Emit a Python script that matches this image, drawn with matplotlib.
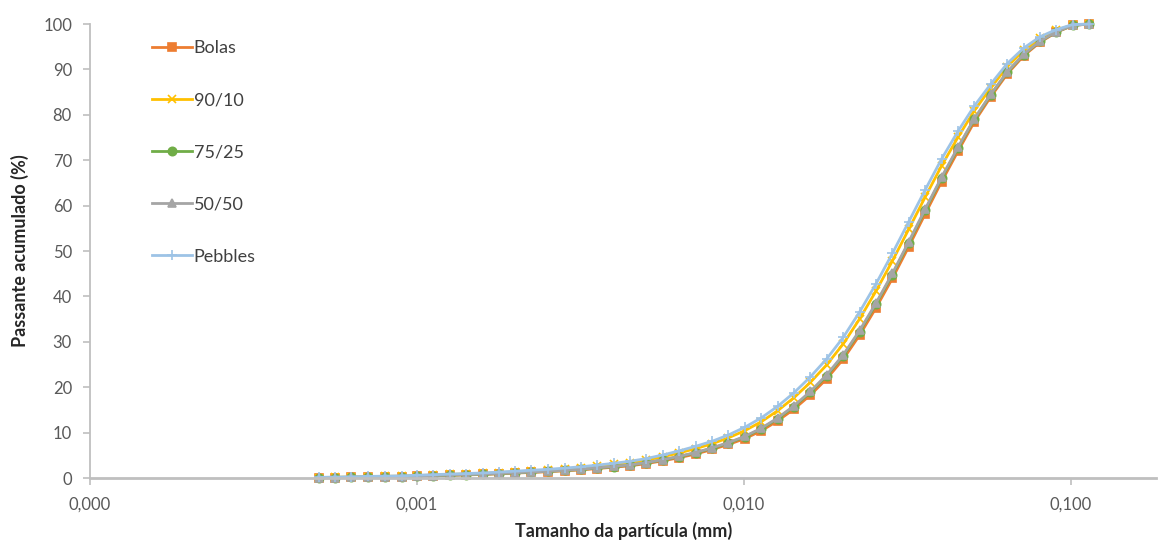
import matplotlib.pyplot as plt
from matplotlib.ticker import FixedLocator, FuncFormatter, NullLocator

# particle sizes (mm)
tamanho = [0.0005, 0.00056, 0.00063, 0.00071, 0.0008, 0.0009, 0.001, 0.00112,
           0.00126, 0.00141, 0.00159, 0.00178, 0.002, 0.00224, 0.00252, 0.00283,
           0.00317, 0.00356, 0.004, 0.00449, 0.00504, 0.00566, 0.00635, 0.00713,
           0.008, 0.00898, 0.01008, 0.01131, 0.0127, 0.01425, 0.016, 0.01796,
           0.02016, 0.02263, 0.0254, 0.02851, 0.032, 0.03592, 0.04032, 0.04525,
           0.0508, 0.05702, 0.064, 0.07184, 0.08063, 0.0905, 0.1016, 0.11404]

bolas = [0.05, 0.10, 0.15, 0.20, 0.25, 0.30, 0.40, 0.50, 0.60, 0.70, 0.80, 0.95,
         1.10, 1.25, 1.40, 1.60, 1.80, 2.10, 2.40, 2.70, 3.20, 3.80, 4.50, 5.30,
         6.30, 7.40, 8.70, 10.40, 12.60, 15.20, 18.30, 21.90, 26.20, 31.50, 37.50, 44.00,
         51.00, 58.20, 65.30, 72.00, 78.50, 84.00, 89.00, 93.00, 96.00, 98.20, 99.70, 100]
m90_10 = [0.12, 0.18, 0.25, 0.31, 0.38, 0.44, 0.55, 0.67, 0.80, 0.91, 1.02, 1.21,
          1.39, 1.58, 1.76, 2.02, 2.28, 2.63, 3.00, 3.40, 3.97, 4.71, 5.55, 6.49,
          7.56, 8.87, 10.45, 12.40, 14.84, 17.72, 21.10, 24.98, 29.56, 35.07, 41.21, 47.85,
          54.85, 61.91, 68.80, 75.08, 80.95, 85.96, 90.61, 94.19, 96.84, 98.62, 99.84, 100]
m75_25 = [0.06, 0.12, 0.17, 0.22, 0.28, 0.33, 0.43, 0.54, 0.64, 0.75, 0.85, 1.00,
          1.16, 1.32, 1.48, 1.69, 1.90, 2.21, 2.53, 2.85, 3.37, 4.00, 4.73, 5.56,
          6.57, 7.72, 9.08, 10.83, 13.08, 15.74, 18.90, 22.56, 26.92, 32.27, 38.30, 44.83,
          51.83, 59.00, 66.05, 72.66, 79.03, 84.42, 89.35, 93.26, 96.18, 98.29, 99.73, 100]
m50_50 = [0.07, 0.12, 0.18, 0.23, 0.29, 0.34, 0.44, 0.55, 0.66, 0.76, 0.86, 1.02,
          1.18, 1.34, 1.50, 1.72, 1.94, 2.25, 2.57, 2.90, 3.42, 4.06, 4.80, 5.64,
          6.66, 7.82, 9.20, 10.97, 13.24, 15.92, 19.10, 22.78, 27.16, 32.52, 38.56, 45.10,
          52.10, 59.26, 66.30, 72.88, 79.20, 84.56, 89.46, 93.34, 96.24, 98.32, 99.74, 100]
pebbles = [0.15, 0.22, 0.29, 0.36, 0.43, 0.50, 0.62, 0.75, 0.88, 1.00, 1.12, 1.32,
           1.52, 1.72, 1.92, 2.20, 2.48, 2.85, 3.25, 3.70, 4.30, 5.10, 6.00, 7.00,
           8.10, 9.50, 11.20, 13.25, 15.80, 18.80, 22.30, 26.30, 31.00, 36.60, 42.80, 49.50,
           56.50, 63.50, 70.30, 76.40, 82.00, 86.80, 91.30, 94.70, 97.20, 98.80, 99.90, 100]

series = [
    ('Bolas', bolas, '#ED7D31', 's', 6),
    ('90/10', m90_10, '#FFC000', 'x', 6),
    ('75/25', m75_25, '#70AD47', 'o', 6),
    ('50/50', m50_50, '#A5A5A5', '^', 6),
    ('Pebbles', pebbles, '#9DC3E6', '+', 7),
]

plt.rcParams['font.family'] = ['Lato', 'DejaVu Sans']

fig = plt.figure(figsize=(11.59, 5.47), dpi=100)
ax = fig.add_axes([0.0777, 0.126, 0.92, 0.830])

for name, vals, color, mk, ms in series:
    ax.plot(tamanho, vals, color=color, lw=2, marker=mk, markersize=ms,
            markeredgewidth=1.2, label=name, clip_on=False)

ax.set_xscale('log')
ax.set_xlim(0.0001, 0.183)
ax.set_ylim(0, 100)
ax.xaxis.set_major_locator(FixedLocator([0.0001, 0.001, 0.01, 0.1]))
ax.xaxis.set_minor_locator(NullLocator())
ax.xaxis.set_major_formatter(FuncFormatter(lambda v, p: f'{v:.3f}'.replace('.', ',')))
ax.set_yticks(range(0, 101, 10))

for s in ['top', 'right']:
    ax.spines[s].set_visible(False)
for s in ['left', 'bottom']:
    ax.spines[s].set_color('#BFBFBF')
    ax.spines[s].set_linewidth(1.3)
ax.spines['bottom'].set_linewidth(2)

ax.tick_params(axis='y', colors='#BFBFBF', labelcolor='#595959', labelsize=12,
               length=5, width=1.2, pad=8)
ax.tick_params(axis='x', colors='#BFBFBF', labelcolor='#595959', labelsize=12,
               length=5, width=1.2, pad=8)

ax.set_xlabel('Tamanho da partícula (mm)', fontsize=13, fontweight='bold',
              color='#262626', labelpad=7)
ax.set_ylabel('Passante acumulado (%)', fontsize=13, fontweight='bold',
              color='#262626', labelpad=10)

leg = ax.legend(loc='upper left', bbox_to_anchor=(0.043, 1.0), frameon=False,
                fontsize=13, labelspacing=2.0, handlelength=2.2,
                handletextpad=0.1, labelcolor='#404040')

fig.savefig('out.png', dpi=100)
